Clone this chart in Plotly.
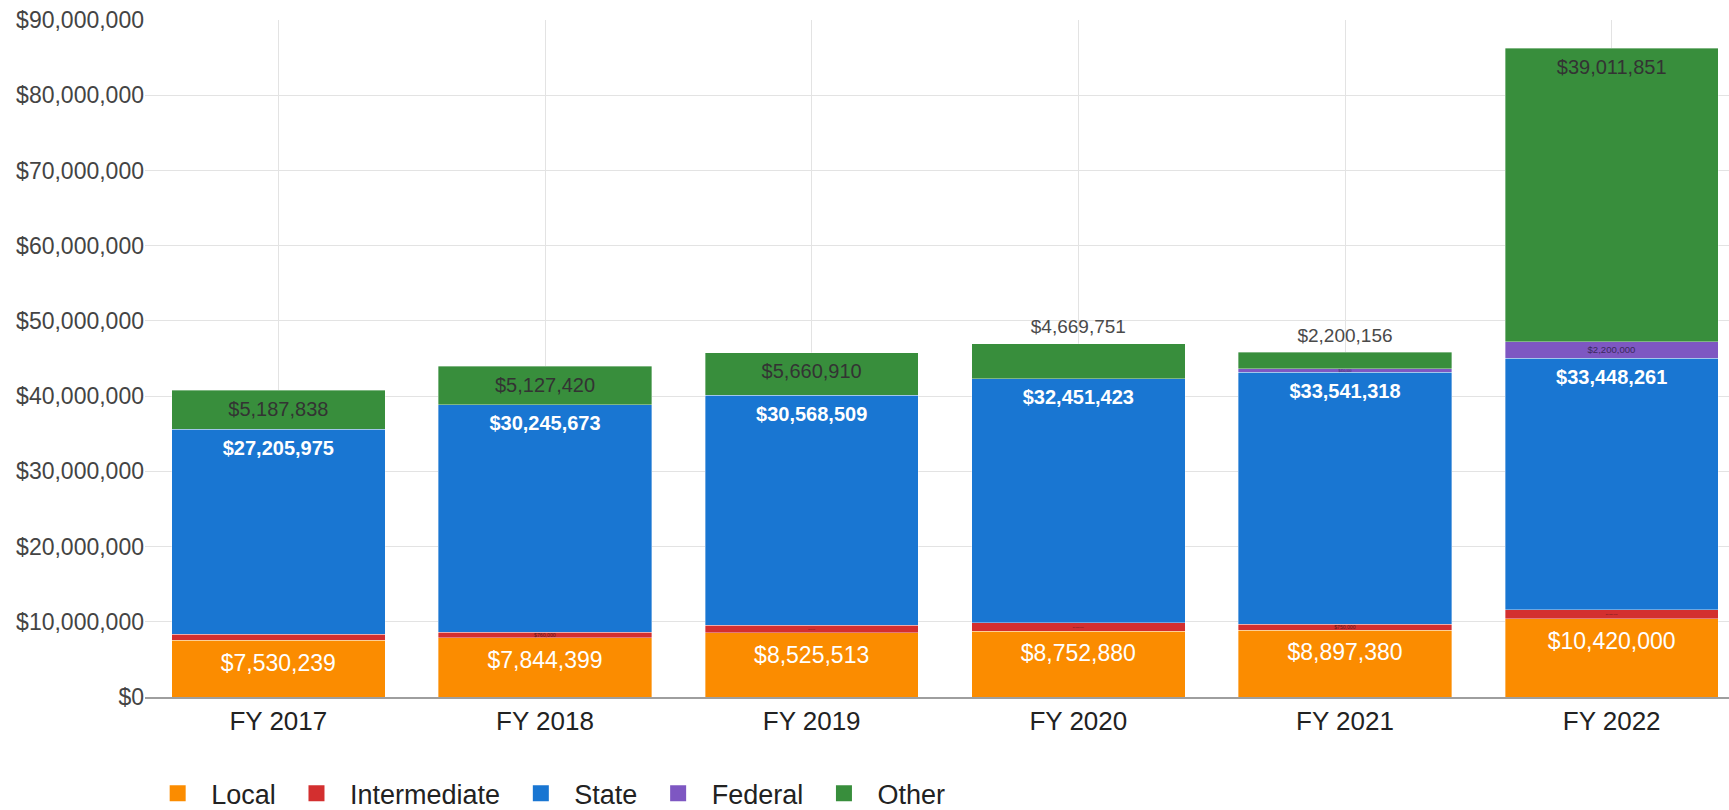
import plotly.graph_objects as go

years = ["FY 2017", "FY 2018", "FY 2019", "FY 2020", "FY 2021", "FY 2022"]
local = [7530239, 7844399, 8525513, 8752880, 8897380, 10420000]
intermediate = [840000, 760000, 1000000, 1120000, 750000, 1150000]
state = [27205975, 30245673, 30568509, 32451423, 33541318, 33448261]
federal = [None, None, None, None, 450000, 2200000]
other = [5187838, 5127420, 5660910, 4669751, 2200156, 39011851]
other_pos = ["inside", "inside", "inside", "outside", "outside", "inside"]
series_names = ["Local", "Intermediate", "State", "Federal", "Other"]
series_colors = ["#FB8C00", "#D32F2F", "#1976D2", "#7E57C2", "#388E3C"]

FONT = "Arial, Liberation Sans, sans-serif"
SP = "\u2002"

def fmt(vals):
    return ["" if v is None else "${:,.0f}".format(v) for v in vals]

def pushed(vals, size):
    # tiny invisible first line -> a little extra top padding inside the bar
    return ["\u00a0<br><br><span style='font-size:%dpx'>%s</span>" % (size, t) for t in fmt(vals)]

def lifted(t, size):
    # tiny invisible last line -> a little extra gap above the bar
    return "<span style='font-size:%dpx'>%s</span><br>\u00a0" % (size, t)

other_text = [lifted(t, 19) if p == "outside" else pushed([v], 20)[0]
              for t, p, v in zip(fmt(other), other_pos, other)]

fig = go.Figure()
fig.add_bar(name=series_names[0], x=years, y=local, text=pushed(local, 23), marker_color=series_colors[0],
            textposition="inside", insidetextanchor="end", legendgroup="g0", showlegend=False,
            insidetextfont=dict(color="white", size=7.8, family=FONT))
fig.add_bar(name=series_names[1], x=years, y=intermediate, text=fmt(intermediate), marker_color=series_colors[1],
            textposition="inside", insidetextanchor="middle", legendgroup="g1", showlegend=False,
            insidetextfont=dict(color="#5a1a1a", size=10, family=FONT))
fig.add_bar(name=series_names[2], x=years, y=state, text=pushed(state, 20), marker_color=series_colors[2],
            textposition="inside", insidetextanchor="end", legendgroup="g2", showlegend=False,
            insidetextfont=dict(color="white", size=6.4, family=FONT, weight="bold"))
fig.add_bar(name=series_names[3], x=years, y=federal, text=fmt(federal), marker_color=series_colors[3],
            textposition="inside", insidetextanchor="middle", legendgroup="g3", showlegend=False,
            insidetextfont=dict(color="#3a2a5a", size=10, family=FONT))
fig.add_bar(name=series_names[4], x=years, y=other, text=other_text, marker_color=series_colors[4],
            textposition=other_pos, insidetextanchor="end", cliponaxis=False,
            legendgroup="g4", showlegend=False,
            insidetextfont=dict(color="#333333", size=6.4, family=FONT),
            outsidetextfont=dict(color="#4a4a4a", size=4.85, family=FONT))

fig.update_traces(marker_line_width=0.6, marker_line_color="rgba(255,255,255,0.6)")

# legend entries with larger square swatches
for i, (nm, col) in enumerate(zip(series_names, series_colors)):
    fig.add_scatter(x=[None], y=[None], mode="markers", name=SP + nm + SP + "\u200a",
                    legendgroup="g%d" % i, hoverinfo="skip",
                    marker=dict(symbol="square", size=16, color=col))

fig.update_layout(
    barmode="stack", bargap=0.2,
    width=1729, height=810,
    margin=dict(l=145, r=0, t=19.5, b=113, autoexpand=False),
    plot_bgcolor="white", paper_bgcolor="white",
    font=dict(family=FONT, color="#444444"),
    showlegend=True,
    legend=dict(orientation="h", x=0.008, xanchor="left", y=-0.143, yanchor="middle",
                font=dict(size=27, color="#222222"), traceorder="normal", itemsizing="trace"),
    xaxis=dict(range=[-0.5, 5.44], showgrid=True, gridcolor="#e3e3e3", gridwidth=1,
               showline=True, linecolor="#9e9e9e", linewidth=2,
               tickfont=dict(size=26, color="#222222"), ticks=""),
    yaxis=dict(range=[0, 90000000], dtick=10000000, tickprefix="$", tickformat=",d",
               showgrid=True, gridcolor="#e3e3e3", gridwidth=1, zeroline=False,
               tickfont=dict(size=23, color="#444444"), ticks=""),
)

fig.write_html("out.html", config={"displayModeBar": False},
               post_script="document.body.style.margin='0';document.body.style.overflow='hidden';")
